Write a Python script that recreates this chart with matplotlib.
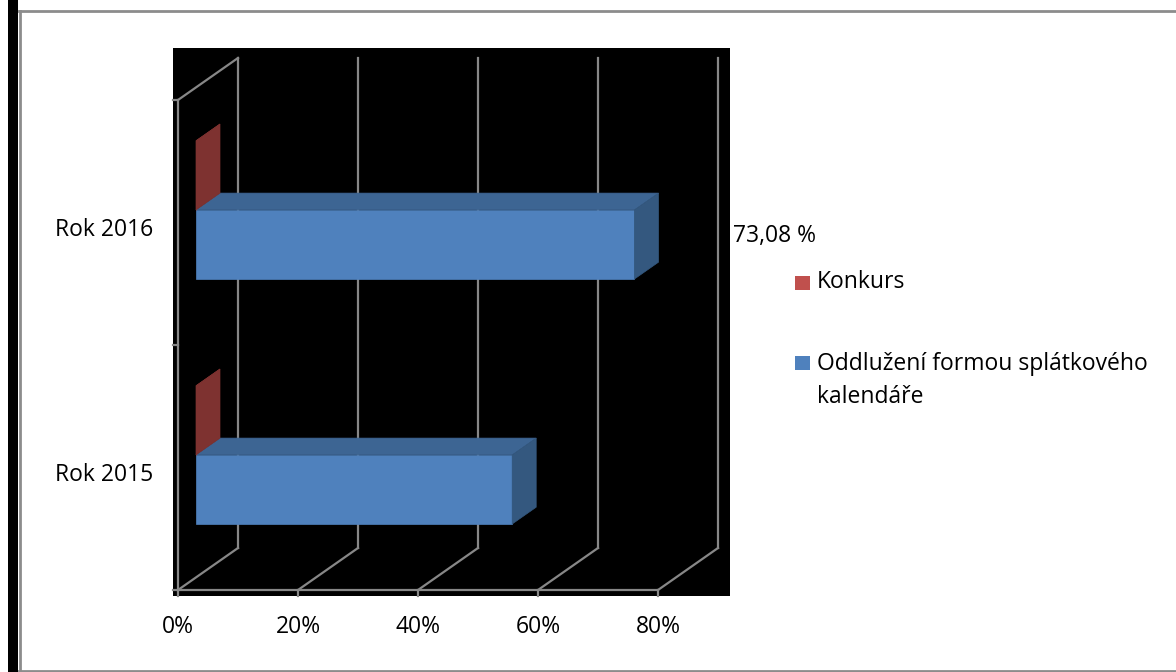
import matplotlib.pyplot as plt
from matplotlib.patches import Polygon, Rectangle
from matplotlib.lines import Line2D

plt.rcParams['font.family'] = ['Open Sans', 'DejaVu Sans']

# data
categories = ["Rok 2015", "Rok 2016"]
oddluzeni = [52.7, 73.08]
konkurs = [0.0, 0.0]
legend_names = ["Konkurs", "Oddlužení formou splátkového", "kalendáře"]
x_ticks = [0, 20, 40, 60, 80]
x_tick_labels = ["0%", "20%", "40%", "60%", "80%"]
label_value = oddluzeni[1]

W, H = 1176, 672
fig = plt.figure(figsize=(W / 100, H / 100), dpi=100)


def fx(px):
    return px / W


def fy(py):
    return 1 - py / H


# plot area (black box) in pixels
ax = fig.add_axes([fx(173), fy(596), (730 - 173) / W, (596 - 48) / H])
ax.set_facecolor("black")
ax.set_xlim(-5 / 6, 92.0)
ax.set_ylim(-6 / 245, 542 / 245)
for s in ax.spines.values():
    s.set_visible(False)

# oblique depth offset (in data units)
DX, DY = 10.0, 42 / 245
GRID = "#878787"


def proj(x, y, d):
    return (x + d * DX, y + d * DY)


# walls / gridlines
for t in x_ticks:
    ax.plot([t, t + DX], [0, DY], color=GRID, lw=1.6, zorder=1)
    ax.plot([t + DX, t + DX], [DY, 2 + DY], color=GRID, lw=1.6, zorder=1)
    ax.plot([t, t], [0, -6 / 245], color=GRID, lw=1.6, zorder=1, clip_on=False)
ax.plot([0, 0], [0, 2], color=GRID, lw=1.6, zorder=1)
ax.plot([0, DX], [2, 2 + DY], color=GRID, lw=1.6, zorder=1)
ax.plot([0, x_ticks[-1]], [0, 0], color=GRID, lw=1.6, zorder=1)
for k in range(len(categories) + 1):
    ax.plot([-5 / 6, 0], [k, k], color=GRID, lw=1.6, zorder=1, clip_on=False)


def bar3d(i, lo, v, c_front, c_top, c_side, h=0.282, d0=0.3, d1=0.7):
    y0 = i + lo
    y1 = y0 + h
    faces = [
        ([proj(0, y0, d0), proj(v, y0, d0), proj(v, y1, d0), proj(0, y1, d0)], c_front),
        ([proj(0, y1, d0), proj(v, y1, d0), proj(v, y1, d1), proj(0, y1, d1)], c_top),
        ([proj(v, y0, d0), proj(v, y1, d0), proj(v, y1, d1), proj(v, y0, d1)], c_side),
    ]
    for pts, c in faces:
        ax.add_patch(Polygon(pts, closed=True, facecolor=c, edgecolor=c, lw=0.5, zorder=3))


for i in range(len(categories)):
    bar3d(i, 0.218, oddluzeni[i], "#4F81BD", "#3D6593", "#34587F")
    bar3d(i, 0.5, konkurs[i], "#C0504D", "#9A3B39", "#7E3230")

ax.set_xticks(x_ticks)
ax.set_xticklabels(x_tick_labels)
ax.set_yticks([i + 0.48 for i in range(len(categories))])
ax.set_yticklabels(categories)
ax.tick_params(axis="both", length=0, labelsize=16.5, colors="black")
ax.tick_params(axis="x", pad=14)
ax.tick_params(axis="y", pad=14)

# data label
fig.text(fx(733), fy(236), f"{label_value:.2f}".replace(".", ",") + " %",
         fontsize=16.5, va="center", ha="left")

# legend
fig.patches.append(Rectangle((fx(795), fy(290)), 15 / W, 14 / H, facecolor="#C0504D",
                             transform=fig.transFigure, figure=fig))
fig.patches.append(Rectangle((fx(795), fy(370)), 15 / W, 14 / H, facecolor="#4F81BD",
                             transform=fig.transFigure, figure=fig))
fig.text(fx(817), fy(282), legend_names[0], fontsize=16.5, va="center", ha="left")
fig.text(fx(817), fy(364), legend_names[1], fontsize=16.5, va="center", ha="left")
fig.text(fx(817), fy(397), legend_names[2], fontsize=16.5, va="center", ha="left")

# outer frame
fig.patches.append(Rectangle((fx(8), 0), 10 / W, 1, facecolor="black",
                             transform=fig.transFigure, figure=fig))
fig.lines.append(Line2D([fx(19.5), fx(19.5)], [fy(11), fy(671)], color="#8c8c8c", lw=2,
                        transform=fig.transFigure))
fig.lines.append(Line2D([fx(19), 1], [fy(11), fy(11)], color="#8c8c8c", lw=2,
                        transform=fig.transFigure))
fig.lines.append(Line2D([fx(19), 1], [fy(671), fy(671)], color="#8c8c8c", lw=2,
                        transform=fig.transFigure))

fig.savefig("out.png", dpi=100)
